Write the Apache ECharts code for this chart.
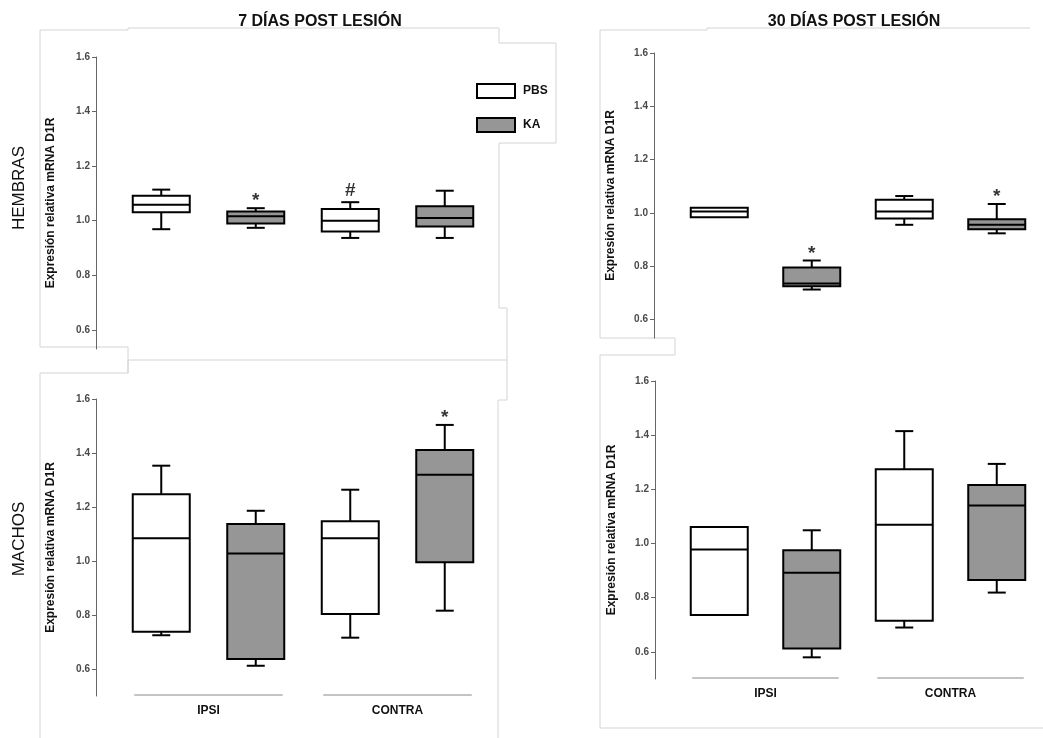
<!DOCTYPE html>
<html>
<head>
<meta charset="utf-8">
<script src="https://cdn.jsdelivr.net/npm/echarts@6/dist/echarts.min.js"></script>
<style>
html,body{margin:0;padding:0;background:#fff;}
#c{width:1043px;height:738px;}
</style>
</head>
<body>
<div id="c"></div>
<script>
// ---------- data ----------
const categories = ['IPSI PBS', 'IPSI KA', 'CONTRA PBS', 'CONTRA KA'];
const groupLabels = ['IPSI', 'CONTRA'];
const yTicks = [0.6, 0.8, 1.0, 1.2, 1.4, 1.6];
const panelTitles = ['7 DÍAS POST LESIÓN', '30 DÍAS POST LESIÓN'];
const rowLabels = ['HEMBRAS', 'MACHOS'];
const yName = 'Expresión relativa mRNA D1R';
const seriesNames = ['PBS', 'KA'];

// [categoryIndex, min, Q1, median, Q3, max]
const h7PBS = [[0, 0.969, 1.031, 1.059, 1.092, 1.114], [2, 0.937, 0.961, 1.000, 1.043, 1.068]];
const h7KA  = [[1, 0.974, 0.990, 1.016, 1.034, 1.046], [3, 0.937, 0.979, 1.010, 1.053, 1.110]];
const m7PBS = [[0, 0.725, 0.738, 1.084, 1.247, 1.353], [2, 0.716, 0.804, 1.084, 1.147, 1.264]];
const m7KA  = [[1, 0.612, 0.637, 1.028, 1.137, 1.186], [3, 0.816, 0.995, 1.319, 1.411, 1.504]];
const h30PBS = [[0, 0.983, 0.983, 1.005, 1.019, 1.019], [2, 0.955, 0.979, 1.005, 1.049, 1.063]];
const h30KA  = [[1, 0.712, 0.724, 0.735, 0.795, 0.821], [3, 0.923, 0.938, 0.955, 0.976, 1.033]];
const m30PBS = [[0, 0.736, 0.736, 0.978, 1.061, 1.061], [2, 0.690, 0.715, 1.069, 1.274, 1.415]];
const m30KA  = [[1, 0.580, 0.613, 0.892, 0.975, 1.049], [3, 0.819, 0.865, 1.140, 1.216, 1.294]];

// significance marks: [categoryIndex, value, symbol]
const h7Marks  = [[1, 1.046, '*'], [2, 1.068, '#']];
const m7Marks  = [[3, 1.504, '*']];
const h30Marks = [[1, 0.821, '*'], [3, 1.033, '*']];
const m30Marks = [];

// ---------- styling ----------
const FONT = '"Liberation Sans", Arial, sans-serif';
const FILL = { PBS: '#ffffff', KA: '#969696' };
const BOXW = 57, CAPW = 18;

const grids = [
  { left: 114, width: 378, top: 57, height: 292 },  // 7d hembras
  { left: 114, width: 378, top: 399, height: 297 }, // 7d machos
  { left: 673, width: 377, top: 53, height: 285 },  // 30d hembras
  { left: 673, width: 377, top: 381, height: 298 }  // 30d machos
];
const yMins = [0.53, 0.5, 0.53, 0.5];
const yOffsets = [18, 18, 19, 18];
const nameGaps = [39, 39, 37, 37];

function renderBox(fill) {
  return function (params, api) {
    const x = api.value(0);
    const pMin = api.coord([x, api.value(1)]);
    const pQ1 = api.coord([x, api.value(2)]);
    const pMed = api.coord([x, api.value(3)]);
    const pQ3 = api.coord([x, api.value(4)]);
    const pMax = api.coord([x, api.value(5)]);
    const cx = pQ1[0];
    const st = { stroke: '#000', lineWidth: 2 };
    const ch = [];
    if (pMax[1] < pQ3[1] - 0.5) {
      ch.push({ type: 'line', shape: { x1: cx, y1: pQ3[1], x2: cx, y2: pMax[1] }, style: st });
      ch.push({ type: 'line', shape: { x1: cx - CAPW / 2, y1: pMax[1], x2: cx + CAPW / 2, y2: pMax[1] }, style: st });
    }
    if (pMin[1] > pQ1[1] + 0.5) {
      ch.push({ type: 'line', shape: { x1: cx, y1: pQ1[1], x2: cx, y2: pMin[1] }, style: st });
      ch.push({ type: 'line', shape: { x1: cx - CAPW / 2, y1: pMin[1], x2: cx + CAPW / 2, y2: pMin[1] }, style: st });
    }
    ch.push({ type: 'rect', shape: { x: cx - BOXW / 2, y: pQ3[1], width: BOXW, height: pQ1[1] - pQ3[1] },
      style: { fill: fill, stroke: '#000', lineWidth: 2 } });
    ch.push({ type: 'line', shape: { x1: cx - BOXW / 2, y1: pMed[1], x2: cx + BOXW / 2, y2: pMed[1] }, style: st });
    return { type: 'group', children: ch };
  };
}

const panelData = [[h7PBS, h7KA, h7Marks], [m7PBS, m7KA, m7Marks], [h30PBS, h30KA, h30Marks], [m30PBS, m30KA, m30Marks]];

const xAxes = [], yAxes = [], series = [];
grids.forEach(function (g, i) {
  xAxes.push({
    type: 'category', gridIndex: i, data: categories, boundaryGap: true,
    axisLine: { show: false }, axisTick: { show: false }, axisLabel: { show: false }, splitLine: { show: false }
  });
  yAxes.push({
    type: 'value', gridIndex: i, min: yMins[i], max: 1.6, offset: yOffsets[i],
    name: yName, nameLocation: 'middle', nameGap: nameGaps[i],
    nameTextStyle: { fontFamily: FONT, fontWeight: 'bold', fontSize: 12, color: '#111' },
    axisLine: { show: true, lineStyle: { color: '#666', width: 1 } },
    axisTick: { show: true, length: 4, lineStyle: { color: '#666' }, customValues: yTicks },
    axisLabel: { show: true, margin: 6, fontFamily: FONT, fontWeight: 'bold', fontSize: 10, color: '#4a4a4a',
      customValues: yTicks, formatter: function (v) { return v.toFixed(1); } },
    splitLine: { show: false }
  });
  const d = panelData[i];
  [0, 1].forEach(function (k) {
    const nm = seriesNames[k];
    series.push({
      type: 'custom', name: nm, xAxisIndex: i, yAxisIndex: i,
      renderItem: renderBox(FILL[nm]),
      itemStyle: { color: FILL[nm], borderColor: '#000', borderWidth: 2 },
      encode: { x: 0, y: [1, 2, 3, 4, 5] },
      data: d[k], silent: true, z: 3
    });
  });
  series.push({
    type: 'scatter', xAxisIndex: i, yAxisIndex: i, symbolSize: 1, silent: true,
    itemStyle: { color: 'rgba(0,0,0,0)' },
    data: d[2].map(function (m) {
      return { value: [m[0], m[1]], label: { formatter: m[2], fontSize: 19, distance: m[2] === '#' ? 1 : -3 } };
    }),
    label: { show: true, position: 'top', color: '#000', fontFamily: FONT, fontWeight: 'bold' },
    z: 4
  });
});
// group label axes for the bottom panels
[1, 3].forEach(function (gi) {
  xAxes.push({
    type: 'category', gridIndex: gi, data: groupLabels, position: 'bottom',
    axisLine: { show: false }, axisTick: { show: false },
    axisLabel: { margin: 9, fontFamily: FONT, fontWeight: 'bold', fontSize: 12, color: '#111' }
  });
});

// scan-like faint frames
const frameStyle = { stroke: '#d4d4d4', lineWidth: 1, fill: null };
const frames = [
  [[40, 347], [40, 30], [128, 30], [128, 28], [499, 28], [499, 43], [556, 43], [556, 143], [499, 143], [499, 308], [507, 308], [507, 360]],
  [[40, 347], [128, 347], [128, 373], [40, 373], [40, 738]],
  [[128, 373], [128, 360], [507, 360], [507, 400], [498, 400], [498, 738]],
  [[600, 338], [600, 30], [707, 30], [707, 28], [1030, 28]],
  [[600, 338], [675, 338], [675, 355], [600, 355], [600, 357], [600, 728], [1043, 728]]
];

const graphics = [
  { type: 'text', x: 320, y: 22, style: { text: panelTitles[0], font: 'bold 16px ' + FONT, fill: '#111', align: 'center', verticalAlign: 'middle' } },
  { type: 'text', x: 854, y: 22, style: { text: panelTitles[1], font: 'bold 16px ' + FONT, fill: '#111', align: 'center', verticalAlign: 'middle' } },
  { type: 'text', x: 19, y: 188, rotation: Math.PI / 2, style: { text: rowLabels[0], font: '17px ' + FONT, fill: '#111', align: 'center', verticalAlign: 'middle' } },
  { type: 'text', x: 19, y: 539, rotation: Math.PI / 2, style: { text: rowLabels[1], font: '17px ' + FONT, fill: '#111', align: 'center', verticalAlign: 'middle' } }
];
frames.forEach(function (pts) {
  graphics.push({ type: 'polyline', shape: { points: pts }, style: frameStyle, silent: true, z: -1 });
});

const chart = echarts.init(document.getElementById('c'), null, { renderer: 'canvas' });
chart.setOption({
  animation: false,
  backgroundColor: '#fff',
  grid: grids,
  xAxis: xAxes,
  yAxis: yAxes,
  legend: {
    left: 476, top: 83, orient: 'vertical', padding: 0, itemWidth: 38, itemHeight: 14, itemGap: 18,
    selectedMode: false,
    textStyle: { fontFamily: FONT, fontWeight: 'bold', fontSize: 12, color: '#111', padding: [0, 0, 0, 3] },
    data: [
      { name: 'PBS', icon: 'rect', itemStyle: { color: FILL.PBS, borderColor: '#000', borderWidth: 2 } },
      { name: 'KA', icon: 'rect', itemStyle: { color: FILL.KA, borderColor: '#000', borderWidth: 2 } }
    ]
  },
  graphic: graphics,
  series: series
});

// underlines for the group labels, positioned through the axis scales
const under = [];
[1, 3].forEach(function (gi) {
  const yb = chart.convertToPixel({ yAxisIndex: gi }, 0.5) - 1;
  [[0, 1], [2, 3]].forEach(function (pr) {
    const xa = chart.convertToPixel({ xAxisIndex: gi }, pr[0]);
    const xb = chart.convertToPixel({ xAxisIndex: gi }, pr[1]);
    under.push({ type: 'line', shape: { x1: xa - 27, y1: yb, x2: xb + 27, y2: yb }, style: { stroke: '#888', lineWidth: 1 }, silent: true });
  });
});
chart.setOption({ graphic: graphics.concat(under) });
</script>
</body>
</html>
